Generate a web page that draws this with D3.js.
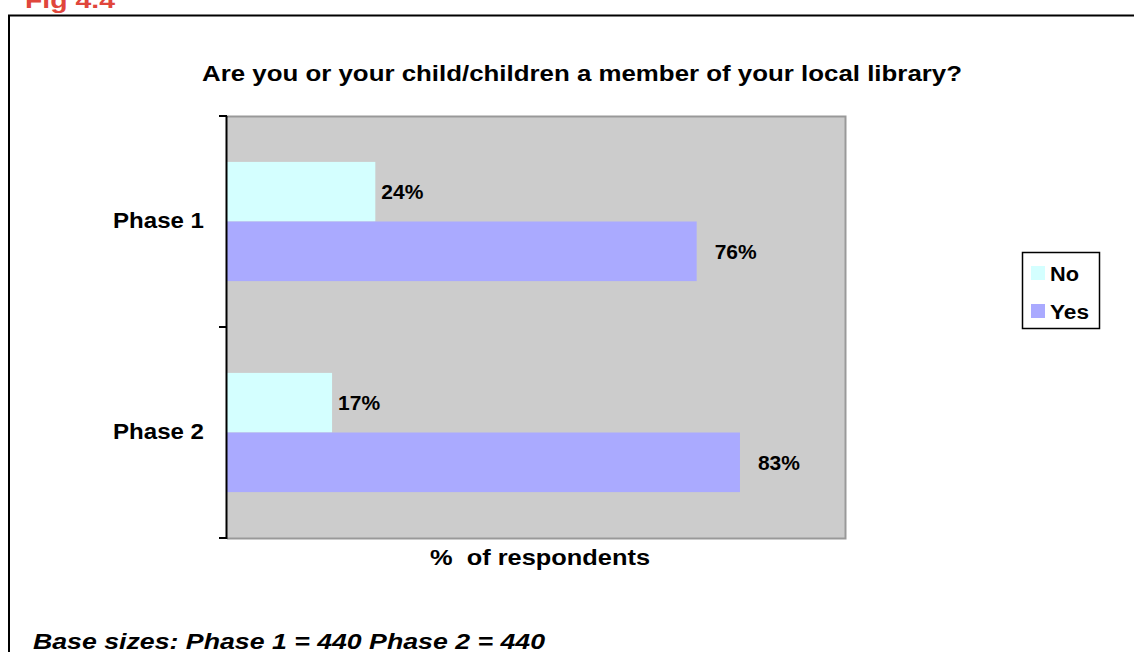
<!DOCTYPE html>
<html>
<head>
<meta charset="utf-8">
<script src="https://cdn.jsdelivr.net/npm/d3@7"></script>
<style>
  html, body { margin: 0; padding: 0; background: #fff; }
  svg { display: block; font-family: Arial, "Liberation Sans", sans-serif; }
</style>
</head>
<body>
<svg id="chart" width="1134" height="652"></svg>
<script>
// Library membership by survey phase
const categories = ["Phase 1", "Phase 2"];
const seriesNames = ["No", "Yes"];
const noValues = [24, 17];
const yesValues = [76, 83];
const seriesColors = ["#D4FFFF", "#AAAAFF"];
const labelGap = [6, 18];

const svg = d3.select("#chart");

// Figure number and outer frame
svg.append("text")
  .attr("x", 25).attr("y", 8)
  .attr("font-size", 22).attr("font-weight", "bold")
  .attr("fill", "#E0463C")
  .attr("textLength", 90).attr("lengthAdjust", "spacingAndGlyphs")
  .text("Fig 4.4");

svg.append("path")
  .attr("d", "M9,660 V15.5 H1140")
  .attr("fill", "none").attr("stroke", "#000").attr("stroke-width", 2);

// Plot area
const plot = { left: 227, top: 116, right: 845, bottom: 538 };

const x = d3.scaleLinear().domain([0, 100]).range([plot.left, plot.right]);
const y = d3.scaleBand().domain(categories).range([plot.top, plot.bottom]).paddingInner(0).paddingOuter(0);
const inner = d3.scaleBand().domain(seriesNames).range([0, y.bandwidth()]).paddingInner(0).paddingOuter(0.77);

svg.append("rect")
  .attr("x", plot.left).attr("y", plot.top)
  .attr("width", plot.right - plot.left).attr("height", plot.bottom - plot.top)
  .attr("fill", "#CCCCCC");

svg.append("path")
  .attr("d", `M${plot.left},${plot.top + 0.5} H${plot.right + 0.5} V${plot.bottom + 0.5} H${plot.left}`)
  .attr("fill", "none").attr("stroke", "#999999").attr("stroke-width", 2);

// Bars
const rows = categories.map((c, i) => ({ cat: c, values: [noValues[i], yesValues[i]] }));
const groups = svg.selectAll("g.cat").data(rows).join("g")
  .attr("class", "cat")
  .attr("transform", d => `translate(0,${y(d.cat)})`);

groups.selectAll("rect").data(d => d.values.map((v, j) => ({ s: seriesNames[j], v, j }))).join("rect")
  .attr("x", x(0))
  .attr("y", d => inner(d.s))
  .attr("width", d => x(d.v) - x(0))
  .attr("height", inner.bandwidth())
  .attr("fill", d => seriesColors[d.j]);

groups.selectAll("text.val").data(d => d.values.map((v, j) => ({ s: seriesNames[j], v, j }))).join("text")
  .attr("class", "val")
  .attr("x", d => x(d.v) + labelGap[d.j])
  .attr("y", d => inner(d.s) + inner.bandwidth() / 2)
  .attr("dy", "0.36em")
  .attr("font-size", 21).attr("font-weight", "bold")
  .attr("textLength", 42).attr("lengthAdjust", "spacingAndGlyphs")
  .text(d => d.v + "%");

// Category axis with ticks between groups
const axisG = svg.append("g");
axisG.append("line")
  .attr("x1", plot.left - 0.5).attr("x2", plot.left - 0.5)
  .attr("y1", plot.top).attr("y2", plot.bottom + 1)
  .attr("stroke", "#000").attr("stroke-width", 2);
const tickYs = [plot.top, ...categories.map(c => y(c) + y.bandwidth())];
axisG.selectAll("line.tick").data(tickYs).join("line")
  .attr("class", "tick")
  .attr("x1", plot.left - 8).attr("x2", plot.left)
  .attr("y1", d => d).attr("y2", d => d)
  .attr("stroke", "#000").attr("stroke-width", 2);
axisG.selectAll("text").data(categories).join("text")
  .attr("x", 204)
  .attr("y", d => y(d) + y.bandwidth() / 2)
  .attr("dy", "0.3em")
  .attr("text-anchor", "end")
  .attr("font-size", 22).attr("font-weight", "bold")
  .attr("textLength", 91).attr("lengthAdjust", "spacingAndGlyphs")
  .text(d => d);

// Title and axis title
svg.append("text")
  .attr("x", 202).attr("y", 81)
  .attr("font-size", 22).attr("font-weight", "bold")
  .attr("textLength", 760).attr("lengthAdjust", "spacingAndGlyphs")
  .text("Are you or your child/children a member of your local library?");

svg.append("text")
  .attr("x", 430).attr("y", 565)
  .attr("font-size", 22).attr("font-weight", "bold")
  .attr("textLength", 220).attr("lengthAdjust", "spacingAndGlyphs")
  .attr("xml:space", "preserve")
  .text("%  of respondents");

// Legend
const legend = svg.append("g").attr("transform", "translate(1022,252)");
legend.append("rect")
  .attr("x", 0.5).attr("y", 0.5).attr("width", 77).attr("height", 76)
  .attr("fill", "#fff").attr("stroke", "#000").attr("stroke-width", 1.5);
seriesNames.forEach((s, i) => {
  legend.append("rect")
    .attr("x", 9).attr("y", 14 + i * 38)
    .attr("width", 14).attr("height", 14)
    .attr("fill", seriesColors[i]);
  legend.append("text")
    .attr("x", 28).attr("y", 29 + i * 38)
    .attr("font-size", 20).attr("font-weight", "bold")
    .attr("textLength", i === 0 ? 29 : 39).attr("lengthAdjust", "spacingAndGlyphs")
    .text(s);
});

// Base sizes footnote
svg.append("text")
  .attr("x", 33).attr("y", 649)
  .attr("font-size", 22).attr("font-weight", "bold").attr("font-style", "italic")
  .attr("textLength", 512).attr("lengthAdjust", "spacingAndGlyphs")
  .text("Base sizes: Phase 1 = 440 Phase 2 = 440");
</script>
</body>
</html>
